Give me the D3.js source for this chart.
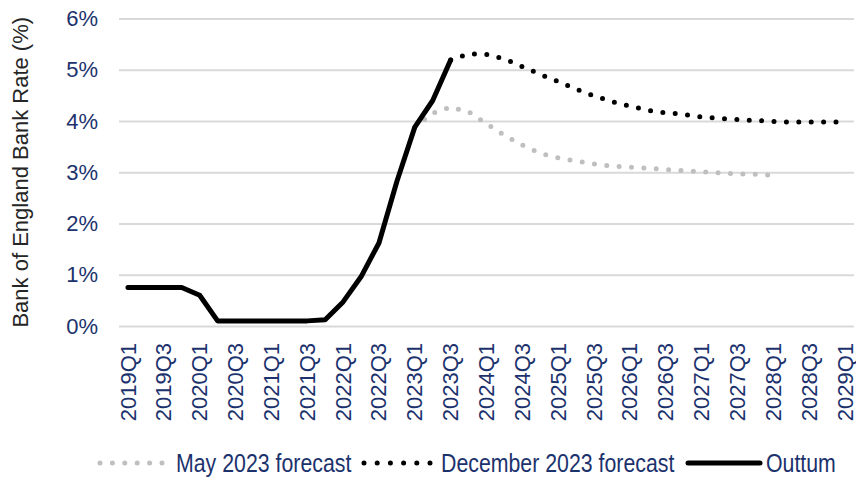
<!DOCTYPE html>
<html>
<head>
<meta charset="utf-8">
<script src="https://cdn.jsdelivr.net/npm/d3@7"></script>
<style>
	body { margin: 0; background: #fff; }
	svg { display: block; }
</style>
</head>
<body>
<div id="container"></div>
<script>
// Chart size and plot box
const width = 856;
const height = 477;
const marginTop = 18.5;
const marginLeft = 119;
const plotRight = 854;
const plotBottom = 326;

const navy = "#1c326d";
const tickFont = "'Liberation Sans', Arial, sans-serif";

// Quarters on the x axis
const quarters = [
	"2019Q1","2019Q2","2019Q3","2019Q4",
	"2020Q1","2020Q2","2020Q3","2020Q4",
	"2021Q1","2021Q2","2021Q3","2021Q4",
	"2022Q1","2022Q2","2022Q3","2022Q4",
	"2023Q1","2023Q2","2023Q3","2023Q4",
	"2024Q1","2024Q2","2024Q3","2024Q4",
	"2025Q1","2025Q2","2025Q3","2025Q4",
	"2026Q1","2026Q2","2026Q3","2026Q4",
	"2027Q1","2027Q2","2027Q3","2027Q4",
	"2028Q1","2028Q2","2028Q3","2028Q4",
	"2029Q1"
];

// Outturn 2019Q1 - 2023Q3
const outturn = [0.75, 0.75, 0.75, 0.75, 0.6, 0.1, 0.1, 0.1, 0.1, 0.1, 0.1, 0.12,
	0.47, 0.96, 1.62, 2.82, 3.88, 4.4, 5.19];

// May 2023 forecast 2023Q1 - 2028Q1
const mayStart = "2023Q1";
const mayForecast = [3.88, 4.15, 4.27, 4.18, 3.95, 3.72, 3.53, 3.37, 3.28, 3.22, 3.16,
	3.12, 3.1, 3.08, 3.05, 3.03, 3.01, 2.99, 2.97, 2.96, 2.94];

// December 2023 forecast 2023Q3 - 2029Q1
const decStart = "2023Q3";
const decForecast = [5.19, 5.31, 5.3, 5.21, 5.06, 4.91, 4.77, 4.62, 4.49, 4.38, 4.29,
	4.21, 4.16, 4.13, 4.08, 4.05, 4.03, 4.01, 3.99, 3.98, 3.98, 3.98, 3.98];

const yTicks = [0, 1, 2, 3, 4, 5, 6];
const legendItems = ["May 2023 forecast", "December 2023 forecast", "Outtum"];

// pair a series with its quarters
const series = function(start, vals) {
	let i0 = quarters.indexOf(start);
	return vals.map((v, i) => [quarters[i0 + i], v]);
}

const x = d3.scalePoint()
	.domain(quarters)
	.range([marginLeft, plotRight])
	.padding(0.5);

const y = d3.scaleLinear()
	.domain([0, 6])
	.range([plotBottom, marginTop]);

const svg = d3.select("#container").append("svg")
	.attr("width", width)
	.attr("height", height);

// Gridlines
svg.append("g")
	.attr("transform", `translate(${marginLeft},0)`)
	.call(d3.axisLeft(y).tickValues(yTicks).tickSize(-(plotRight - marginLeft)).tickFormat(""))
	.call(g => g.select(".domain").remove())
	.call(g => g.selectAll("line").attr("stroke", "#d9d9d9").attr("stroke-width", 2));

// Y axis labels
svg.append("g")
	.attr("transform", `translate(${marginLeft},0)`)
	.call(d3.axisLeft(y).tickValues(yTicks).tickSize(0).tickPadding(21).tickFormat(d => d + "%"))
	.call(g => g.select(".domain").remove())
	.call(g => g.selectAll("text")
		.attr("fill", navy)
		.style("font-family", tickFont)
		.style("font-size", "22px"));

// X axis labels, every second quarter
svg.append("g")
	.attr("transform", `translate(0,${plotBottom})`)
	.call(d3.axisBottom(x).tickValues(quarters.filter((d, i) => i % 2 == 0)).tickSize(0))
	.call(g => g.select(".domain").remove())
	.call(g => g.selectAll("text")
		.attr("transform", "rotate(-90)")
		.attr("text-anchor", "end")
		.attr("x", -17)
		.attr("y", 0)
		.attr("dy", "0.32em")
		.attr("fill", navy)
		.style("font-family", tickFont)
		.style("font-size", "22px"));

// Y axis title
svg.append("text")
	.attr("transform", `translate(28,${(marginTop + plotBottom) / 2}) rotate(-90)`)
	.attr("text-anchor", "middle")
	.attr("fill", "#262626")
	.style("font-family", tickFont)
	.style("font-size", "22px")
	.text("Bank of England Bank Rate (%)");

const line = d3.line()
	.x(d => x(d[0]))
	.y(d => y(d[1]));

// May forecast
svg.append("path")
	.datum(series(mayStart, mayForecast))
	.attr("fill", "none")
	.attr("stroke", "#bfbfbf")
	.attr("stroke-width", 5)
	.attr("stroke-linecap", "round")
	.attr("stroke-dasharray", "0,12.4")
	.attr("d", line);

// December forecast
svg.append("path")
	.datum(series(decStart, decForecast))
	.attr("fill", "none")
	.attr("stroke", "#000")
	.attr("stroke-width", 5)
	.attr("stroke-linecap", "round")
	.attr("stroke-dasharray", "0,12.4")
	.attr("d", line);

// Outturn
svg.append("path")
	.datum(series("2019Q1", outturn))
	.attr("fill", "none")
	.attr("stroke", "#000")
	.attr("stroke-width", 5)
	.attr("stroke-linecap", "round")
	.attr("stroke-linejoin", "round")
	.attr("d", line);

// Legend (narrow font imitated by squeezing the text)
const legendY = 463;
const legendX = [100, 364, 688];
const legendLen = [62, 66, 72];
const legendTextX = [176, 441, 766];
const legendStyle = [
	{stroke: "#bfbfbf", dash: "0,12.4", cap: "round"},
	{stroke: "#000", dash: "0,13.2", cap: "round"},
	{stroke: "#000", dash: null, cap: "round"}
];

const leg = svg.append("g");
legendItems.forEach((name, i) => {
	leg.append("path")
		.attr("d", d3.line()([[legendX[i], legendY], [legendX[i] + legendLen[i], legendY]]))
		.attr("fill", "none")
		.attr("stroke", legendStyle[i].stroke)
		.attr("stroke-width", 5)
		.attr("stroke-linecap", legendStyle[i].cap)
		.attr("stroke-dasharray", legendStyle[i].dash);
	leg.append("text")
		.attr("transform", `translate(${legendTextX[i]},${legendY}) scale(0.82,1)`)
		.attr("dy", "0.35em")
		.attr("fill", navy)
		.style("font-family", tickFont)
		.style("font-size", "26px")
		.text(name);
});
</script>
</body>
</html>
